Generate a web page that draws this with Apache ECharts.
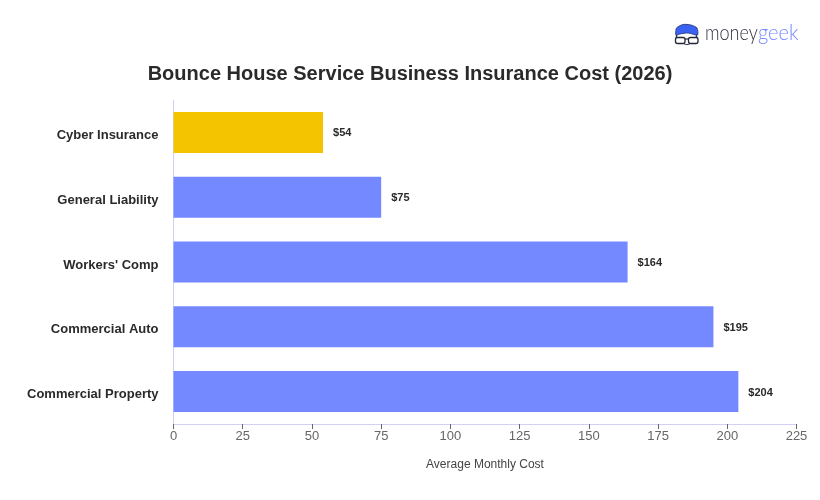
<!DOCTYPE html>
<html>
<head>
<meta charset="utf-8">
<style>html,body{margin:0;padding:0;background:#fff}#chart{width:820px;height:500px}</style>
<script src="https://cdn.jsdelivr.net/npm/echarts@6/dist/echarts.min.js"></script>
</head>
<body>
<div id="chart"></div>
<script>
const categories = ['Cyber Insurance', 'General Liability', "Workers' Comp", 'Commercial Auto', 'Commercial Property'];
const monthlyCost = [54, 75, 164, 195, 204];
const barColors = ['#F5C400', '#7488FF', '#7488FF', '#7488FF', '#7488FF'];
const FONT = '"Liberation Sans", Arial, sans-serif';
const LOGO_FONT = 'Lato, "Open Sans", sans-serif';

const chart = echarts.init(document.getElementById('chart'), null, { renderer: 'canvas' });
chart.setOption({
  animation: false,
  backgroundColor: '#ffffff',
  title: {
    text: 'Bounce House Service Business Insurance Cost (2026)',
    left: 405, top: 59, textAlign: 'center',
    textStyle: { fontFamily: FONT, fontSize: 20, fontWeight: 'bold', color: '#2a2a2a' }
  },
  grid: { left: 173.5, right: 23.5, top: 100, bottom: 76, containLabel: false },
  xAxis: {
    type: 'value', min: 0, max: 225, interval: 25,
    name: 'Average Monthly Cost', nameLocation: 'middle', nameGap: 35,
    nameTextStyle: { fontFamily: FONT, fontSize: 12, color: '#444444' },
    axisLine: { show: true, lineStyle: { color: '#D0D0F8', width: 1 } },
    axisTick: { show: true, length: 5, lineStyle: { color: '#666666', width: 1 } },
    axisLabel: { fontFamily: FONT, fontSize: 13, color: '#666666', margin: 6 },
    splitLine: { show: false }
  },
  yAxis: {
    type: 'category', inverse: true, data: categories,
    axisLine: { show: true, lineStyle: { color: '#D0D0F8', width: 1 } },
    axisTick: { show: false },
    axisLabel: {
      margin: 15,
      formatter: v => '{name|' + v + '}',
      rich: {
        name: { fontFamily: FONT, fontSize: 13, fontWeight: 'bold', color: '#2a2a2a', lineHeight: 19, verticalAlign: 'bottom' }
      }
    }
  },
  series: [{
    type: 'bar',
    barWidth: 41,
    data: monthlyCost.map((v, i) => ({ value: v, itemStyle: { color: barColors[i] } })),
    label: {
      show: true, position: 'right', distance: 10, offset: [0, 1],
      formatter: p => '$' + p.value,
      fontFamily: FONT, fontSize: 11, fontWeight: 'bold', color: '#2a2a2a'
    }
  }],
  graphic: [{
    type: 'group', left: 674, top: 22,
    children: [
      // brand mark: blue hair above a pair of glasses
      { type: 'line', shape: { x1: 1.5, y1: 8, x2: 1.5, y2: 15 }, style: { stroke: '#2A2F45', lineWidth: 1.4 } },
      { type: 'line', shape: { x1: 21.5, y1: 8, x2: 21.5, y2: 15 }, style: { stroke: '#2A2F45', lineWidth: 1.4 } },
      { type: 'polygon', shape: { points: [[1, 11], [1.5, 4], [8, 0.5], [16, 1], [22, 4], [22.5, 11], [13, 9], [5, 10]], smooth: 0.25 },
        style: { fill: '#3A62F2', stroke: '#27346E', lineWidth: 0.8 } },
      { type: 'bezierCurve', shape: { x1: 8, y1: 19, cpx1: 10, cpy1: 21, cpx2: 14, cpy2: 21, x2: 16, y2: 19 }, style: { fill: 'none', stroke: '#2A2F45', lineWidth: 1 } },
      { type: 'rect', shape: { x: 0.5, y: 13.5, width: 9.5, height: 6, r: 2 }, style: { fill: '#fff', stroke: '#23263A', lineWidth: 1.3 } },
      { type: 'rect', shape: { x: 13.5, y: 13.5, width: 9.5, height: 6, r: 2 }, style: { fill: '#fff', stroke: '#23263A', lineWidth: 1.3 } },
      { type: 'line', shape: { x1: 10, y1: 15, x2: 13.5, y2: 15 }, style: { stroke: '#23263A', lineWidth: 1.2 } },
      { type: 'text', x: 30, y: -2, scaleX: 0.82, style: { text: 'money', fontFamily: LOGO_FONT, fontSize: 22, fontWeight: 300, fill: '#333340' } },
      { type: 'text', x: 83, y: -2, scaleX: 0.91, style: { text: 'geek', fontFamily: LOGO_FONT, fontSize: 22, fontWeight: 300, fill: '#7488FF' } }
    ]
  }]
});
</script>
</body>
</html>
